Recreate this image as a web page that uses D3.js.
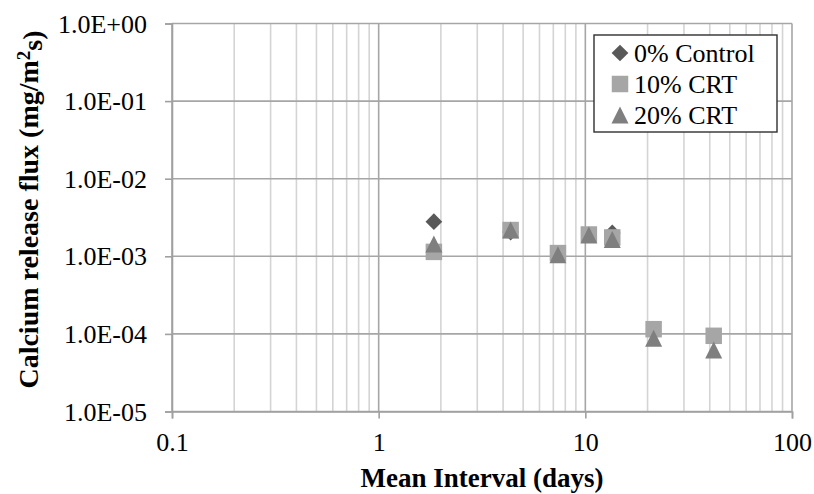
<!DOCTYPE html>
<html>
<head>
<meta charset="utf-8">
<script src="https://cdn.jsdelivr.net/npm/d3@7"></script>
<style>
  body { margin: 0; background: #fff; }
  text { font-family: "Liberation Serif", "Times New Roman", serif; fill: #000; }
</style>
</head>
<body>
<div id="chart"></div>
<script>
// data (days, mg/m2s)
const controlX = [1.85, 4.35, 13.5];
const controlY = [2.79e-3, 2.05e-3, 2.0e-3];
const crt10X = [1.85, 4.35, 7.37, 10.4, 13.5, 21.4, 41.8];
const crt10Y = [1.14e-3, 2.18e-3, 1.10e-3, 1.91e-3, 1.75e-3, 1.15e-4, 9.45e-5];
const crt20X = [1.85, 4.35, 7.37, 10.4, 13.5, 21.4, 41.8];
const crt20Y = [1.44e-3, 2.18e-3, 1.05e-3, 1.88e-3, 1.65e-3, 8.8e-5, 6.2e-5];
const seriesNames = ["0% Control", "10% CRT", "20% CRT"];
const xTicks = [0.1, 1, 10, 100];
const yTicks = [1e-5, 1e-4, 1e-3, 1e-2, 1e-1, 1];

const W = 814, H = 494;
const margin = { top: 23.5, right: 22, bottom: 82.5, left: 172 };

const svg = d3.select("#chart").append("svg")
    .attr("width", W).attr("height", H);

const x = d3.scaleLog().domain([0.1, 100]).range([margin.left, W - margin.right]);
const y = d3.scaleLog().domain([1e-5, 1]).range([H - margin.bottom, margin.top]);

// minor vertical gridlines (2..9 of each decade)
const minorX = [];
[0.1, 1, 10].forEach(d => { for (let k = 2; k <= 9; k++) minorX.push(d * k); });

svg.append("g").selectAll("line")
    .data(minorX)
    .enter().append("line")
    .attr("x1", d => x(d)).attr("x2", d => x(d))
    .attr("y1", y(1)).attr("y2", y(1e-5))
    .attr("stroke", "#d4d4d4").attr("stroke-width", 1.6);

// major vertical gridlines
svg.append("g").selectAll("line")
    .data(xTicks)
    .enter().append("line")
    .attr("x1", d => x(d)).attr("x2", d => x(d))
    .attr("y1", y(1)).attr("y2", y(1e-5))
    .attr("stroke", "#a6a6a6").attr("stroke-width", 1.6);

// horizontal gridlines
svg.append("g").selectAll("line")
    .data(yTicks)
    .enter().append("line")
    .attr("x1", x(0.1)).attr("x2", x(100))
    .attr("y1", d => y(d)).attr("y2", d => y(d))
    .attr("stroke", "#a6a6a6").attr("stroke-width", 1.6);

// axes
const expFmt = d => {
    const e = Math.round(Math.log10(d));
    return "1.0E" + (e >= 0 ? "+" : "-") + String(Math.abs(e)).padStart(2, "0");
};

const yAxis = svg.append("g")
    .attr("transform", `translate(${x(0.1)},0)`)
    .call(d3.axisLeft(y).tickValues(yTicks).tickFormat(expFmt).tickSize(7).tickPadding(18));

const xAxis = svg.append("g")
    .attr("transform", `translate(0,${y(1e-5)})`)
    .call(d3.axisBottom(x).tickValues(xTicks).tickFormat(d3.format("~g")).tickSize(7).tickPadding(14));

[yAxis, xAxis].forEach(a => {
    a.attr("font-family", null);
    a.select(".domain").attr("stroke", "#a0a0a0").attr("stroke-width", 1.6);
    a.selectAll(".tick line").attr("stroke", "#a0a0a0").attr("stroke-width", 1.6);
    a.selectAll("text").style("font-size", "26px").attr("fill", "#000");
});
yAxis.selectAll("text").attr("dy", "0.33em");

// axis titles
svg.append("text")
    .attr("x", (x(0.1) + x(100)) / 2)
    .attr("y", 487)
    .attr("text-anchor", "middle")
    .style("font-size", "27px").style("font-weight", "bold")
    .text("Mean Interval (days)");

const yt = svg.append("text")
    .attr("transform", `translate(38,${(y(1) + y(1e-5)) / 2 - 8}) rotate(-90)`)
    .attr("text-anchor", "middle")
    .style("font-size", "28px").style("font-weight", "bold");
yt.append("tspan").text("Calcium release flux (mg/m");
yt.append("tspan").attr("dy", "-0.4em").style("font-size", "19px").text("2");
yt.append("tspan").attr("dy", "0.4em").text("s)");

// marker shapes
const diamond = d3.symbol().type(d3.symbolSquare).size(140);
const square = d3.symbol().type(d3.symbolSquare).size(272);
const triBox = {
    draw(ctx, size) {
        const h = Math.sqrt(size) / 2;
        ctx.moveTo(0, -h);
        ctx.lineTo(h, h);
        ctx.lineTo(-h, h);
        ctx.closePath();
    }
};
const triangle = d3.symbol().type(triBox).size(289);

const colors = ["#595959", "#a6a6a6", "#7f7f7f"];

function drawSeries(xs, ys, path, color, rot) {
    svg.append("g").selectAll("path")
        .data(xs.map((d, i) => [d, ys[i]]))
        .enter().append("path")
        .attr("d", path)
        .attr("transform", d => `translate(${x(d[0])},${y(d[1])}) rotate(${rot})`)
        .attr("fill", color);
}

drawSeries(controlX, controlY, diamond, colors[0], 45);
drawSeries(crt10X, crt10Y, square, colors[1], 0);
drawSeries(crt20X, crt20Y, triangle, colors[2], 0);

// legend
const legend = svg.append("g").attr("transform", "translate(594,35)");
legend.append("rect")
    .attr("width", 183).attr("height", 97)
    .attr("fill", "#fff").attr("stroke", "#303030").attr("stroke-width", 1.4);

const shapes = [diamond, square, triangle];
const rots = [45, 0, 0];
seriesNames.forEach((name, i) => {
    const cy = 18 + i * 31;
    legend.append("path")
        .attr("d", shapes[i])
        .attr("transform", `translate(26,${cy}) rotate(${rots[i]})`)
        .attr("fill", colors[i]);
    legend.append("text")
        .attr("x", 40)
        .attr("y", cy)
        .attr("dy", "0.35em")
        .style("font-size", "26px")
        .text(name);
});
</script>
</body>
</html>
